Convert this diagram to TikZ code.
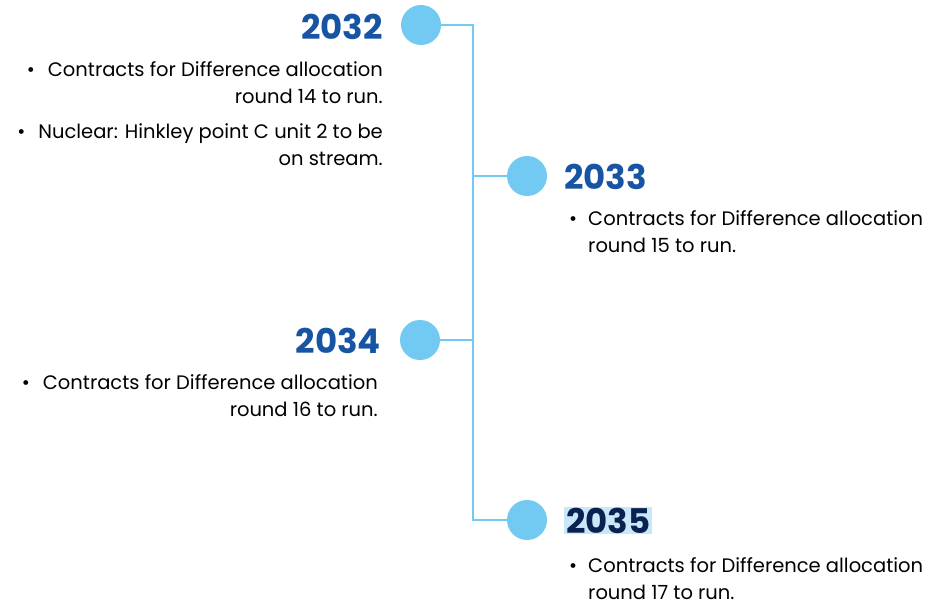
\documentclass[tikz,border=0pt]{standalone}
\usepackage{fontspec}
\setmainfont{Poppins}
\usepackage{tikz}
\usetikzlibrary{positioning}

\definecolor{yearblue}{RGB}{24,84,164}
\definecolor{dotblue}{RGB}{114,201,241}
\definecolor{navy}{RGB}{11,33,80}
\definecolor{hlblue}{RGB}{200,232,249}

\begin{document}
\begin{tikzpicture}[x=1pt,y=-1pt,
    dot/.style={circle,fill=dotblue,minimum size=40pt,inner sep=0pt},
    spine/.style={draw=dotblue,line width=1.5pt},
    year/.style={font=\fontsize{34}{34}\selectfont\bfseries,text=yearblue,inner sep=0pt},
    txtL/.style={align=right,inner sep=0pt,font=\fontsize{19.5}{27}\selectfont},
    txtR/.style={align=left,inner sep=0pt,font=\fontsize{19.5}{27}\selectfont}]
    \path[use as bounding box] (0,0) rectangle (933,607);

    % dots
    \node[dot] (c2032) at (421,25) {};
    \node[dot] (c2033) at (527,176) {};
    \node[dot] (c2034) at (420,340) {};
    \node[dot] (c2035) at (527,520) {};

    % spine
    \coordinate (top) at (473,25);
    \coordinate (bot) at (473,520);
    \draw[spine] (c2032) -- (top) -- (bot) -- (c2035);
    \draw[spine] (c2033) -- (c2033 -| top);
    \draw[spine] (c2034) -- (c2034 -| top);

    % years
    \node[year,anchor=base east] (y2032) at (383,40) {2032};
    \node[year,anchor=base west] (y2033) at (564,189) {2033};
    \node[year,anchor=base east] (y2034) at (381,353) {2034};
    \node[year,anchor=base west,text=navy,fill=hlblue,inner xsep=2pt,inner ysep=1pt] (y2035) at (564,533) {2035};

    % Text Node (base = last line)
    \node[txtL,anchor=base east] (t2032a) at (383,103) {\textbullet\hspace{13pt}Contracts for Difference allocation\\round 14 to run.};
    % Text Node
    \node[txtL,anchor=base east] (t2032b) at (383,165) {\textbullet\hspace{13pt}Nuclear: Hinkley point C unit 2 to be\\on stream.};
    % Text Node
    \node[txtR,anchor=base west] (t2033) at (569,225) {\begin{tabular}[t]{@{}l@{\hspace{11pt}}l@{}}\textbullet & Contracts for Difference allocation\\ & round 15 to run.\end{tabular}};
    % Text Node
    \node[txtL,anchor=base east] (t2034) at (378,416) {\textbullet\hspace{13pt}Contracts for Difference allocation\\round 16 to run.};
    % Text Node
    \node[txtR,anchor=base west] (t2035) at (569,572) {\begin{tabular}[t]{@{}l@{\hspace{11pt}}l@{}}\textbullet & Contracts for Difference allocation\\ & round 17 to run.\end{tabular}};
\end{tikzpicture}
\end{document}
